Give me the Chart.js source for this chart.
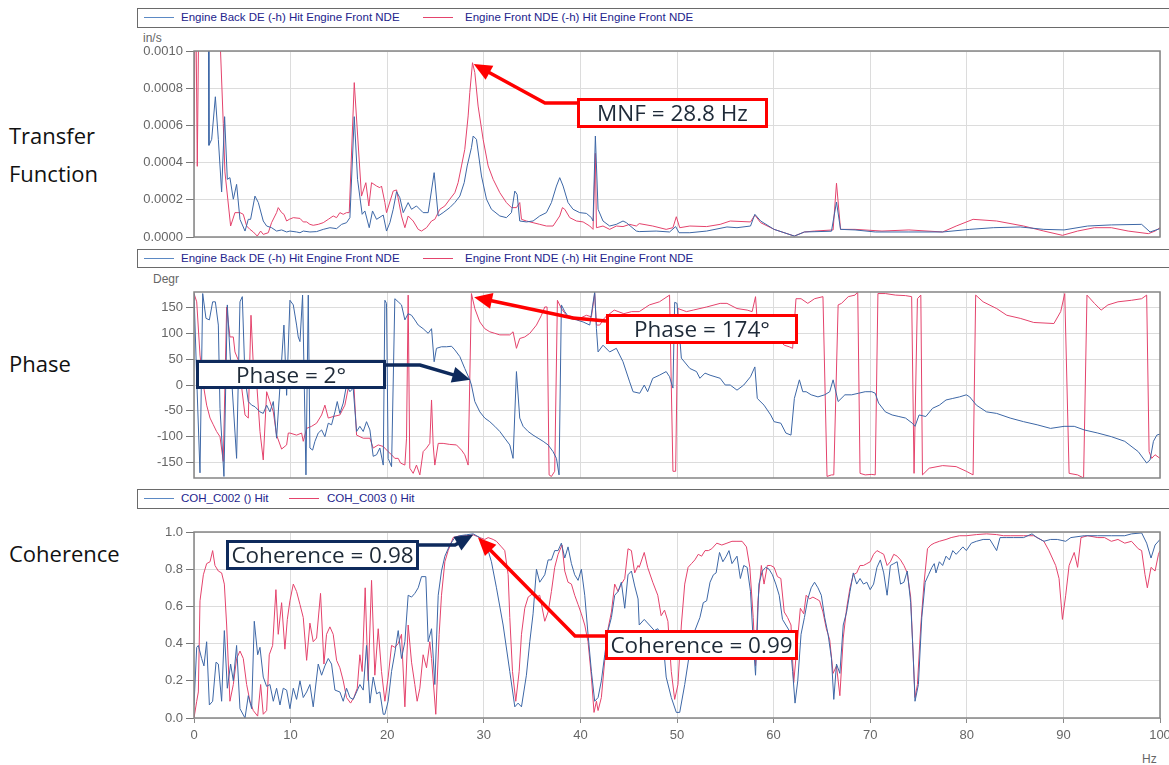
<!DOCTYPE html>
<html>
<head>
<meta charset="utf-8">
<script src="https://cdn.jsdelivr.net/npm/chart.js@4/dist/chart.umd.min.js"></script>
<style>
  body { margin: 0; width: 1169px; height: 765px; overflow: hidden; background: #fff; position: relative; font-family: "Liberation Sans", Arial, sans-serif; }
  canvas { position: absolute; left: 0; }
  .legend { position: absolute; left: 137px; width: 1100px; border: 1.5px solid #6a6a6a; background: #fff; box-sizing: border-box; font-size: 11.5px; color: #23238c; }
  .legend span.item { position: absolute; top: 2px; white-space: nowrap; }
  .legend span.swatch { position: absolute; top: 8px; width: 30px; height: 0; border-top: 1px solid; }
  .unit { position: absolute; font-size: 12px; color: #666; }
  .title { position: absolute; left: 9px; font: 22px "Open Sans", sans-serif; color: #111; }
  .note { position: absolute; background: #fff; border: 3px solid; box-sizing: border-box; font: 22.5px/24px "Open Sans", sans-serif; color: #1e2a38; text-align: center; white-space: nowrap; }
  .red { border-color: #f00; }
  .navy { border-color: #0e2a5c; }
</style>
</head>
<body>
<div class="title" style="top:116px;line-height:38px">Transfer<br>Function</div>
<div class="title" style="top:348px;line-height:30px">Phase</div>
<div class="title" style="top:538px;line-height:30px">Coherence</div>

<div class="unit" style="left:143px;top:31px">in/s</div>
<div class="unit" style="left:153px;top:272px">Degr</div>
<div class="unit" style="left:1142px;top:752px">Hz</div>

<canvas id="tf" width="1169" height="220" style="top:28px"></canvas>
<canvas id="ph" width="1169" height="220" style="top:268px"></canvas>
<canvas id="coh" width="1169" height="256" style="top:509px"></canvas>

<div class="legend" id="leg1" style="top:8px;height:20px"></div>
<div class="legend" id="leg2" style="top:249px;height:19px"></div>
<div class="legend" id="leg3" style="top:489px;height:20px"></div>

<div class="note red" style="left:577px;top:98px;width:191px;height:30px">MNF = 28.8 Hz</div>
<div class="note red" style="left:606px;top:314px;width:192px;height:30px">Phase = 174°</div>
<div class="note navy" style="left:196px;top:360px;width:190px;height:29px">Phase = 2°</div>
<div class="note navy" style="left:226px;top:540px;width:193px;height:30px">Coherence = 0.98</div>
<div class="note red" style="left:605px;top:630px;width:193px;height:30px">Coherence = 0.99</div>

<script>
// legend labels
const tfLabels = ["Engine Back DE (-h) Hit Engine Front NDE", "Engine Front NDE (-h) Hit Engine Front NDE"];
const cohLabels = ["COH_C002 () Hit", "COH_C003 () Hit"];

// tick labels
const hzTicks = [0, 10, 20, 30, 40, 50, 60, 70, 80, 90, 100];
const tfTicks = [0, 0.0002, 0.0004, 0.0006, 0.0008, 0.0010];
const phaseTicks = [-150, -100, -50, 0, 50, 100, 150];
const cohTicks = [0, 0.2, 0.4, 0.6, 0.8, 1.0];

// transfer function, [Hz, in/s]
const tfBack = [[0,15e-4],[1.45,15e-4],[1.55,4.93e-4],[1.83,5.25e-4],[2.21,7.54e-4],[2.52,5.25e-4],[2.86,2.42e-4],[3.17,6.47e-4],[3.45,3.1e-4],[3.72,3.19e-4],[4.07,2.03e-4],[4.41,2.83e-4],[4.76,0.95e-4],[5.28,0.32e-4],[5.62,0.95e-4],[5.86,0.95e-4],[6.31,2.2e-4],[6.66,1.85e-4],[7.17,0.86e-4],[7.52,0.59e-4],[8.03,0.5e-4],[8.55,0.32e-4],[9.07,0.38e-4],[9.59,0.27e-4],[9.93,0.32e-4],[10.62,0.27e-4],[10.97,0.23e-4],[11.31,0.32e-4],[12.0,0.27e-4],[12.69,0.29e-4],[13.38,0.41e-4],[14.07,0.5e-4],[14.76,0.45e-4],[15.28,0.68e-4],[15.79,0.77e-4],[16.14,1.04e-4],[16.59,6.47e-4],[16.93,3.1e-4],[17.41,1.22e-4],[17.69,1.4e-4],[18.14,0.5e-4],[18.48,1.4e-4],[18.9,0.95e-4],[19.59,1.18e-4],[19.93,0.32e-4],[20.28,0.77e-4],[20.62,1.49e-4],[20.97,2.44e-4],[21.31,2.11e-4],[21.66,1.31e-4],[22.17,1.85e-4],[22.52,1.49e-4],[23.03,1.67e-4],[23.72,1.31e-4],[24.24,1.31e-4],[24.86,3.46e-4],[25.28,1.13e-4],[25.79,1.31e-4],[26.48,1.58e-4],[27.0,1.85e-4],[27.52,2.2e-4],[27.97,2.92e-4],[28.28,3.82e-4],[28.72,4.8e-4],[28.9,5.43e-4],[29.24,5.25e-4],[29.76,3.28e-4],[30.28,2.03e-4],[30.79,1.49e-4],[31.66,1.13e-4],[32.34,1.04e-4],[32.86,1.31e-4],[33.21,2.47e-4],[33.45,2.29e-4],[33.72,0.86e-4],[34.41,0.81e-4],[35.1,0.86e-4],[35.79,1.13e-4],[36.48,1.31e-4],[37.0,1.85e-4],[37.52,2.74e-4],[37.86,3.19e-4],[38.21,2.74e-4],[38.72,1.85e-4],[39.24,1.49e-4],[39.93,1.31e-4],[40.62,1.27e-4],[41.14,1.04e-4],[41.31,0.86e-4],[41.55,5.43e-4],[41.83,1.49e-4],[42.34,0.86e-4],[43.03,0.59e-4],[43.72,0.68e-4],[44.41,0.86e-4],[44.76,0.77e-4],[45.79,0.32e-4],[46.09,0.29e-4],[47.84,0.32e-4],[49.23,0.27e-4],[49.86,0.56e-4],[50.21,0.23e-4],[51.33,0.23e-4],[53.07,0.32e-4],[55.17,0.54e-4],[56.21,0.5e-4],[57.61,0.59e-4],[58.06,1.22e-4],[58.66,0.86e-4],[60.05,0.41e-4],[62.15,0.05e-4],[63.19,0.27e-4],[65.99,0.31e-4],[66.51,1.88e-4],[66.93,0.41e-4],[68.43,0.38e-4],[70.52,0.27e-4],[74.01,0.27e-4],[77.5,0.27e-4],[80.3,0.41e-4],[82.74,0.5e-4],[85.53,0.54e-4],[87.98,0.41e-4],[90.07,0.38e-4],[92.51,0.59e-4],[94.96,0.65e-4],[98.1,0.68e-4],[98.97,0.27e-4],[100,0.45e-4]];
const tfFront = [[0,3.9e-4],[0.15,15e-4],[0.34,3.8e-4],[0.55,15e-4],[2.6,12e-4],[3.03,6.1e-4],[3.2,3.5e-4],[3.79,0.59e-4],[4.24,1.31e-4],[4.76,1.31e-4],[5.1,1.22e-4],[5.45,0.59e-4],[5.79,0.41e-4],[6.14,0.27e-4],[6.55,0.05e-4],[6.9,0.32e-4],[7.17,0.14e-4],[7.69,0.23e-4],[8.03,0.77e-4],[8.55,1.31e-4],[8.72,1.58e-4],[9.07,1.31e-4],[9.31,1.22e-4],[9.59,0.86e-4],[9.86,0.95e-4],[10.28,1.04e-4],[10.97,1.0e-4],[11.31,0.81e-4],[11.66,0.81e-4],[12.0,0.68e-4],[12.34,0.63e-4],[12.86,0.68e-4],[13.38,0.77e-4],[13.9,0.95e-4],[14.41,1.13e-4],[14.76,1.04e-4],[15.1,1.31e-4],[15.45,1.22e-4],[15.79,1.31e-4],[16.07,1.31e-4],[16.59,8.3e-4],[17.34,2.2e-4],[17.79,2.92e-4],[18.1,1.67e-4],[18.38,2.92e-4],[18.9,2.74e-4],[19.24,2.65e-4],[19.41,2.74e-4],[19.76,1.85e-4],[19.93,1.31e-4],[20.62,2.47e-4],[20.97,2.53e-4],[21.48,1.13e-4],[21.83,0.5e-4],[22.17,1.13e-4],[22.69,0.86e-4],[23.21,0.41e-4],[23.55,0.32e-4],[24.07,0.5e-4],[24.59,0.86e-4],[24.93,0.95e-4],[25.45,1.49e-4],[25.97,1.67e-4],[26.48,2.03e-4],[27.0,2.38e-4],[27.34,2.92e-4],[27.69,3.82e-4],[28.03,4.71e-4],[28.38,6.51e-4],[28.55,7.76e-4],[28.83,9.37e-4],[29.07,8.84e-4],[29.41,7.04e-4],[29.93,5.25e-4],[30.45,3.82e-4],[30.97,3.1e-4],[31.66,2.38e-4],[32.34,1.85e-4],[32.86,1.58e-4],[33.38,1.58e-4],[33.72,1.85e-4],[33.9,0.95e-4],[34.41,0.86e-4],[35.1,0.77e-4],[35.79,0.68e-4],[36.48,0.59e-4],[37.17,0.59e-4],[37.86,1.13e-4],[38.14,1.58e-4],[38.38,1.49e-4],[38.9,1.04e-4],[39.59,0.86e-4],[40.28,0.81e-4],[40.97,0.59e-4],[41.31,0.41e-4],[41.55,4.5e-4],[41.66,0.5e-4],[42.34,0.59e-4],[43.03,0.41e-4],[43.72,0.59e-4],[44.41,0.56e-4],[45.1,0.68e-4],[45.79,0.59e-4],[46.09,0.72e-4],[47.49,0.59e-4],[48.88,0.41e-4],[49.58,0.5e-4],[49.93,1.09e-4],[50.28,0.5e-4],[51.33,0.59e-4],[53.07,0.56e-4],[54.47,0.68e-4],[55.51,0.86e-4],[57.61,0.81e-4],[58.06,1.18e-4],[58.66,0.77e-4],[60.05,0.41e-4],[62.15,0.05e-4],[63.19,0.27e-4],[64.24,0.32e-4],[66.16,0.38e-4],[66.51,2.89e-4],[66.93,0.41e-4],[68.43,0.41e-4],[71.22,0.32e-4],[74.01,0.38e-4],[77.5,0.27e-4],[78.9,0.59e-4],[80.65,0.95e-4],[83.09,0.86e-4],[85.88,0.59e-4],[87.98,0.32e-4],[89.9,0.09e-4],[91.47,0.32e-4],[93.21,0.5e-4],[94.96,0.5e-4],[96.7,0.32e-4],[98.8,0.18e-4],[99.49,0.32e-4],[100,0.5e-4]];

// phase, [Hz, degrees]
const phaseBack = [[0,177],[0.28,13],[0.62,-170],[0.9,177],[1.24,129],[1.59,126],[1.93,161],[2.21,161],[2.52,116],[2.69,-45],[3.1,-177],[3.45,155],[3.72,64],[4.41,-142],[4.76,161],[5.0,171],[5.28,13],[5.62,-32],[5.97,-39],[6.31,-42],[6.83,-52],[7.17,-55],[7.52,-39],[7.86,-52],[8.21,-32],[8.55,-103],[9.31,116],[9.59,-20],[9.93,164],[10.28,155],[10.62,116],[10.79,93],[10.97,84],[11.24,174],[11.59,-174],[11.83,174],[12.0,-122],[12.28,-126],[12.52,-109],[12.86,-93],[13.21,-87],[13.55,-100],[13.9,-74],[14.24,-77],[14.59,-52],[14.83,-32],[15.1,-55],[15.45,-35],[15.79,0],[16.14,-13],[16.48,-6],[16.83,-90],[17.17,-80],[17.52,-90],[17.86,-71],[18.21,-87],[18.55,-138],[18.9,-135],[19.24,-122],[19.59,-155],[19.76,164],[19.93,158],[20.1,-142],[20.45,-158],[20.79,167],[21.14,161],[21.48,155],[21.83,126],[22.17,138],[22.52,135],[22.86,126],[23.21,116],[23.72,109],[24.24,100],[24.59,109],[24.86,45],[25.1,71],[25.62,74],[26.14,74],[26.66,75],[27.0,68],[27.52,55],[28.03,32],[28.55,10],[28.72,0],[29.07,-32],[29.59,-52],[30.1,-64],[30.62,-71],[31.14,-80],[31.66,-90],[32.17,-103],[32.69,-116],[33.03,-142],[33.38,26],[33.72,-64],[34.07,-80],[34.59,-90],[35.1,-97],[35.62,-103],[36.14,-109],[36.66,-116],[37.17,-129],[37.52,-142],[37.79,-174],[38.03,155],[38.38,142],[38.9,129],[39.59,126],[40.28,122],[40.97,116],[41.48,180],[41.66,109],[41.83,64],[42.34,77],[43.03,64],[43.72,71],[44.41,45],[45.1,6],[45.45,-13],[46.14,-16],[46.61,0],[46.96,-13],[47.49,13],[48.18,19],[48.88,26],[49.23,16],[49.58,-6],[49.76,160],[50.0,158],[50.45,52],[51.33,32],[52.02,26],[52.37,13],[52.9,23],[53.42,19],[54.47,13],[54.99,0],[55.51,0],[56.21,-10],[56.91,0],[57.61,16],[58.06,35],[58.31,-26],[59.01,-39],[59.7,-58],[60.05,-71],[60.75,-74],[61.27,-93],[61.8,-97],[62.15,-26],[62.67,10],[63.02,-13],[63.37,-13],[63.89,-19],[64.59,-23],[65.29,-19],[65.81,-13],[66.16,10],[66.68,-32],[67.38,-19],[68.08,-19],[68.78,-16],[69.48,-13],[70.17,-13],[70.52,-16],[70.87,-35],[71.57,-52],[72.27,-58],[72.97,-61],[73.66,-64],[74.36,-74],[74.64,-80],[75.06,-58],[75.76,-61],[76.46,-45],[77.16,-39],[77.85,-29],[78.55,-26],[79.25,-23],[79.95,-19],[80.3,-23],[80.99,-39],[82.04,-52],[83.09,-55],[84.49,-64],[85.88,-71],[87.28,-77],[88.67,-84],[90.07,-80],[91.12,-80],[92.16,-87],[93.56,-93],[94.96,-100],[96.35,-109],[97.75,-129],[98.62,-151],[98.97,-145],[99.32,-109],[99.67,-97],[100,-95]];
const phaseFront = [[0,177],[0.28,161],[0.62,58],[0.97,0],[1.31,-39],[1.66,-64],[2.0,-77],[2.34,-90],[2.69,-100],[3.03,-148],[3.38,151],[3.72,93],[4.07,93],[4.24,64],[4.59,48],[5.28,-58],[5.62,-64],[5.9,135],[6.14,39],[6.48,6],[6.83,-90],[7.17,-145],[7.52,-13],[7.86,-32],[8.21,-52],[8.55,-97],[9.07,-124],[9.59,-116],[9.76,-93],[9.93,-93],[10.62,-97],[11.14,-93],[11.31,-109],[11.66,-84],[12.17,-80],[12.69,-74],[13.21,-58],[13.55,-39],[13.9,-64],[14.41,-61],[15.1,-58],[15.62,-39],[15.97,-6],[16.31,13],[16.55,0],[16.83,-97],[17.52,-103],[18.21,-103],[18.55,-122],[19.07,-116],[19.59,-119],[20.1,-129],[20.45,-135],[20.79,-142],[21.14,-142],[21.38,-151],[21.83,-155],[22.0,-103],[22.17,174],[22.34,-161],[22.69,-171],[23.03,-155],[23.38,-174],[23.72,-129],[24.07,-122],[24.41,-113],[24.59,-29],[24.76,-116],[24.93,-155],[25.28,-113],[25.79,-113],[26.48,-115],[27.17,-116],[27.69,-126],[28.03,-135],[28.38,-155],[28.72,177],[29.07,148],[29.59,122],[30.1,109],[30.62,103],[31.14,100],[31.66,97],[32.69,97],[33.03,103],[33.38,71],[33.72,90],[34.24,93],[34.76,100],[35.45,116],[35.97,135],[36.31,151],[36.55,151],[36.76,-174],[37.0,-177],[37.34,-167],[37.62,164],[38.03,148],[38.55,135],[39.24,132],[39.93,129],[40.62,135],[41.14,132],[41.48,177],[41.66,116],[42.0,116],[42.5,130],[43.5,145],[44.5,138],[45.3,142],[46.09,142],[47.14,155],[48.18,161],[49.23,174],[49.58,-167],[49.86,-167],[50.1,148],[50.98,142],[51.68,145],[53.07,151],[54.47,158],[55.17,158],[56.21,148],[57.26,145],[57.78,142],[58.13,171],[58.31,122],[58.66,109],[59.35,103],[60.05,90],[60.75,84],[61.1,77],[61.62,74],[61.97,71],[62.32,167],[62.84,167],[63.54,158],[64.24,167],[65.11,171],[65.53,-177],[65.99,-174],[66.23,-174],[66.68,155],[67.03,158],[67.73,171],[68.43,174],[68.71,180],[68.95,-171],[69.48,-174],[70.17,-173],[70.52,-174],[70.8,177],[71.57,177],[72.62,174],[73.66,173],[74.29,171],[74.54,-171],[74.89,167],[75.24,174],[75.41,-174],[76.11,-161],[77.5,-156],[78.9,-158],[79.95,-167],[80.65,-174],[80.92,174],[81.69,161],[83.09,148],[84.14,135],[85.53,129],[86.93,121],[89.02,119],[89.72,142],[90.14,177],[90.59,-171],[91.47,-174],[92.09,-180],[92.44,174],[93.21,158],[93.91,145],[94.61,155],[95.65,161],[97.05,164],[98.1,167],[98.62,174],[98.87,-129],[99.14,-142],[99.49,-135],[100,-142]];

// coherence, [Hz, ratio]
const cohBack = [[0,0.07],[0.28,0.38],[0.45,0.39],[0.79,0.32],[1.03,0.28],[1.31,0.41],[1.59,0.07],[1.93,0.09],[2.28,0.3],[2.52,0.29],[2.86,0.09],[3.14,0.47],[3.45,0.16],[3.79,0.29],[4.07,0.2],[4.41,0.39],[4.76,0.05],[5.28,0.0],[5.62,0.12],[5.97,0.05],[6.24,0.52],[6.59,0.34],[6.83,0.38],[7.17,0.22],[7.52,0.17],[7.86,0.18],[8.21,0.09],[8.55,0.16],[8.9,0.07],[9.24,0.16],[9.59,0.15],[9.93,0.05],[10.28,0.16],[10.62,0.1],[10.97,0.2],[11.31,0.11],[11.66,0.14],[12.0,0.18],[12.34,0.06],[12.86,0.29],[13.21,0.23],[13.55,0.28],[13.9,0.32],[14.24,0.29],[14.59,0.15],[15.1,0.14],[15.45,0.09],[15.79,0.16],[16.14,0.11],[16.48,0.1],[16.83,0.14],[17.17,0.18],[17.52,0.15],[17.86,0.39],[18.21,0.08],[18.55,0.22],[18.9,0.13],[19.24,0.14],[19.59,0.02],[19.76,0.02],[20.1,0.09],[20.45,0.25],[20.79,0.35],[21.14,0.47],[21.48,0.32],[21.83,0.41],[22.17,0.66],[22.52,0.65],[22.86,0.67],[23.21,0.7],[23.55,0.76],[24.0,0.76],[24.24,0.41],[24.59,0.48],[24.93,0.18],[25.28,0.66],[25.62,0.79],[25.97,0.87],[26.48,0.93],[27.0,0.97],[27.52,0.98],[28.21,0.985],[28.9,0.99],[29.59,0.97],[30.28,0.93],[30.79,0.84],[31.31,0.7],[32.0,0.5],[32.69,0.25],[33.21,0.06],[33.55,0.08],[33.9,0.06],[34.41,0.23],[34.76,0.41],[35.1,0.56],[35.45,0.8],[35.79,0.73],[36.31,0.77],[36.66,0.85],[37.0,0.85],[37.34,0.9],[37.69,0.9],[38.03,0.94],[38.38,0.86],[38.72,0.92],[39.07,0.83],[39.41,0.77],[39.76,0.74],[40.1,0.8],[40.45,0.66],[40.79,0.45],[41.14,0.25],[41.48,0.09],[41.83,0.11],[42.17,0.2],[42.52,0.34],[42.86,0.47],[43.21,0.54],[43.55,0.66],[43.9,0.68],[44.24,0.73],[44.59,0.59],[44.93,0.77],[45.28,0.79],[45.62,0.71],[45.97,0.64],[46.09,0.5],[46.61,0.53],[47.14,0.5],[47.66,0.47],[48.01,0.48],[48.53,0.43],[48.88,0.22],[49.41,0.11],[49.93,0.03],[50.28,0.03],[50.8,0.18],[51.33,0.36],[51.85,0.47],[52.37,0.54],[52.72,0.62],[53.07,0.63],[53.42,0.73],[53.77,0.77],[54.05,0.78],[54.4,0.89],[54.75,0.84],[55.1,0.87],[55.38,0.9],[55.69,0.83],[56.21,0.87],[56.56,0.75],[56.91,0.82],[57.26,0.81],[57.61,0.68],[57.85,0.45],[58.13,0.23],[58.48,0.72],[58.83,0.79],[59.18,0.81],[59.53,0.8],[59.88,0.77],[60.23,0.72],[60.58,0.66],[60.92,0.53],[61.27,0.5],[61.62,0.47],[61.97,0.25],[62.22,0.08],[62.5,0.2],[62.84,0.45],[63.19,0.54],[63.54,0.64],[63.89,0.7],[64.24,0.73],[64.59,0.7],[64.94,0.66],[65.29,0.54],[65.64,0.45],[65.99,0.32],[66.23,0.1],[66.51,0.29],[66.86,0.24],[67.21,0.5],[67.56,0.57],[67.91,0.68],[68.25,0.78],[68.6,0.72],[68.95,0.75],[69.3,0.72],[69.65,0.73],[70.0,0.69],[70.35,0.72],[70.7,0.81],[71.05,0.85],[71.4,0.78],[71.75,0.66],[72.09,0.82],[72.44,0.83],[72.79,0.84],[73.14,0.72],[73.49,0.73],[73.84,0.79],[74.19,0.62],[74.43,0.36],[74.64,0.09],[74.99,0.18],[75.34,0.54],[75.69,0.73],[76.04,0.77],[76.39,0.81],[76.63,0.83],[76.81,0.78],[77.16,0.84],[77.5,0.82],[77.85,0.87],[78.2,0.85],[78.55,0.9],[78.9,0.88],[79.25,0.9],[79.6,0.92],[79.95,0.9],[80.47,0.94],[80.99,0.95],[81.69,0.96],[82.39,0.96],[83.09,0.9],[83.44,0.97],[84.14,0.97],[84.83,0.97],[85.88,0.97],[86.75,0.99],[87.28,0.97],[87.98,0.95],[88.67,0.96],[89.37,0.96],[90.24,0.95],[90.77,0.97],[92.16,0.98],[93.56,0.98],[94.96,0.98],[96.35,0.98],[97.05,0.99],[98.1,0.995],[98.62,0.94],[99.07,0.86],[99.49,0.93],[100,0.96]];
const cohFront = [[0,0.0],[0.28,0.09],[0.45,0.14],[0.62,0.63],[0.97,0.77],[1.31,0.83],[1.66,0.84],[1.93,0.9],[2.17,0.82],[2.52,0.79],[2.86,0.78],[3.14,0.72],[3.38,0.5],[3.72,0.09],[4.07,0.18],[4.41,0.32],[4.76,0.36],[5.1,0.32],[5.45,0.18],[5.79,0.09],[6.14,0.04],[6.59,0.01],[6.9,0.18],[7.17,0.02],[7.52,0.04],[7.79,0.34],[8.14,0.39],[8.48,0.69],[8.72,0.45],[9.07,0.62],[9.41,0.37],[9.66,0.53],[9.93,0.63],[10.28,0.72],[10.62,0.68],[10.97,0.61],[11.31,0.54],[11.66,0.31],[12.0,0.51],[12.34,0.41],[12.69,0.43],[13.1,0.67],[13.45,0.29],[13.72,0.45],[14.07,0.49],[14.41,0.45],[14.76,0.31],[15.1,0.27],[15.45,0.2],[15.79,0.11],[16.21,0.08],[16.55,0.11],[16.9,0.16],[17.17,0.34],[17.41,0.25],[17.72,0.7],[18.03,0.2],[18.38,0.74],[18.72,0.23],[19.07,0.48],[19.41,0.25],[19.76,0.09],[20.1,0.22],[20.45,0.39],[20.79,0.38],[21.14,0.4],[21.48,0.45],[21.83,0.06],[22.17,0.5],[22.52,0.3],[22.86,0.18],[23.1,0.09],[23.38,0.16],[23.72,0.34],[24.07,0.27],[24.41,0.41],[24.59,0.32],[25.03,0.02],[25.38,0.45],[25.62,0.66],[25.97,0.84],[26.31,0.9],[26.83,0.97],[27.52,0.98],[28.21,0.98],[28.9,0.985],[29.59,0.97],[30.1,0.96],[30.45,0.97],[30.97,0.96],[31.31,0.95],[31.83,0.92],[32.17,0.9],[32.52,0.77],[32.69,0.54],[32.97,0.25],[33.31,0.09],[33.66,0.25],[33.9,0.45],[34.24,0.59],[34.59,0.65],[35.1,0.67],[35.45,0.65],[35.79,0.66],[36.31,0.52],[36.66,0.57],[37.0,0.68],[37.34,0.81],[37.69,0.88],[38.1,0.93],[38.38,0.79],[38.72,0.73],[39.07,0.72],[39.41,0.66],[39.76,0.61],[40.1,0.56],[40.45,0.5],[40.79,0.41],[41.14,0.22],[41.41,0.03],[41.66,0.09],[41.83,0.04],[42.17,0.11],[42.52,0.31],[42.86,0.48],[43.21,0.57],[43.55,0.72],[43.9,0.68],[44.24,0.72],[44.59,0.75],[44.93,0.91],[45.28,0.9],[45.62,0.78],[45.97,0.82],[46.09,0.81],[46.61,0.89],[46.96,0.81],[47.49,0.73],[48.01,0.66],[48.36,0.55],[48.71,0.58],[49.06,0.52],[49.41,0.25],[49.76,0.1],[50.1,0.18],[50.45,0.5],[50.8,0.72],[51.15,0.81],[51.5,0.83],[51.85,0.85],[52.2,0.88],[52.55,0.87],[52.9,0.9],[53.25,0.9],[53.6,0.91],[54.12,0.94],[54.64,0.93],[55.17,0.94],[55.69,0.95],[56.21,0.95],[56.74,0.95],[57.19,0.92],[57.54,0.81],[57.89,0.54],[58.13,0.28],[58.38,0.63],[58.73,0.82],[59.01,0.72],[59.35,0.82],[59.7,0.82],[60.05,0.81],[60.4,0.76],[60.75,0.75],[61.1,0.57],[61.45,0.54],[61.8,0.5],[62.08,0.19],[62.43,0.39],[62.77,0.59],[63.12,0.56],[63.37,0.66],[63.72,0.64],[64.07,0.65],[64.42,0.64],[64.76,0.63],[65.11,0.57],[65.46,0.48],[65.81,0.42],[66.16,0.24],[66.51,0.28],[66.86,0.12],[67.21,0.43],[67.56,0.59],[67.91,0.7],[68.25,0.77],[68.6,0.78],[68.95,0.82],[69.3,0.82],[69.65,0.83],[70.0,0.84],[70.35,0.88],[70.7,0.9],[71.05,0.89],[71.4,0.88],[71.75,0.82],[72.09,0.84],[72.44,0.88],[72.79,0.87],[73.14,0.85],[73.49,0.82],[73.84,0.78],[74.19,0.65],[74.43,0.36],[74.64,0.11],[74.89,0.18],[75.24,0.5],[75.58,0.73],[75.93,0.91],[76.28,0.93],[76.63,0.94],[77.16,0.95],[77.85,0.96],[78.38,0.97],[79.25,0.98],[79.95,0.98],[80.99,0.986],[82.04,0.99],[83.09,0.986],[83.79,0.98],[84.49,0.98],[85.88,0.98],[86.93,0.98],[87.98,0.95],[88.5,0.9],[89.2,0.82],[89.55,0.75],[89.9,0.53],[90.24,0.66],[90.59,0.82],[91.12,0.89],[91.47,0.81],[91.82,0.97],[92.51,0.98],[93.56,0.97],[94.26,0.97],[94.96,0.95],[95.65,0.96],[96.35,0.94],[97.05,0.95],[97.75,0.91],[98.1,0.9],[98.45,0.77],[98.69,0.7],[99.07,0.81],[99.49,0.79],[99.84,0.88],[100,0.9]];

const BLUE = "#3d67a6";
const RED = "#e4436c";

// html legends
function buildLegend(id, labels, redSwatchX, redTextX) {
  const el = document.getElementById(id);
  el.innerHTML = `
    <span class="swatch" style="left:6px;border-color:#5b89c4"></span>
    <span class="item" style="left:43px">${labels[0]}</span>
    <span class="swatch" style="left:${redSwatchX}px;border-color:${RED}"></span>
    <span class="item" style="left:${redTextX}px">${labels[1]}</span>`;
}
buildLegend("leg1", tfLabels, 285, 327);
buildLegend("leg2", tfLabels, 285, 327);
buildLegend("leg3", cohLabels, 151, 189);

// frame around plot + annotation arrows
const framePlugin = {
  id: "frame",
  afterDatasetsDraw(chart) {
    const a = chart.chartArea, c = chart.ctx;
    c.save();
    c.strokeStyle = "#858585";
    c.lineWidth = 1.5;
    c.strokeRect(a.left, a.top, a.right - a.left, a.bottom - a.top);
    c.restore();
  },
  afterDraw(chart, args, opts) {
    const c = chart.ctx;
    (opts.arrows || []).forEach(ar => {
      const tx = chart.scales.x.getPixelForValue(ar.tip[0]);
      const ty = chart.scales.y.getPixelForValue(ar.tip[1]);
      const pts = ar.path.map(p => [p[0], p[1] - opts.top]);
      const last = pts[pts.length - 1];
      const ang = Math.atan2(ty - last[1], tx - last[0]);
      const hl = 18, hw = 8;
      const bx = tx - hl * Math.cos(ang), by = ty - hl * Math.sin(ang);
      c.save();
      c.strokeStyle = ar.color;
      c.fillStyle = ar.color;
      c.lineWidth = 3.5;
      c.lineJoin = "miter";
      c.beginPath();
      c.moveTo(pts[0][0], pts[0][1]);
      pts.slice(1).forEach(p => c.lineTo(p[0], p[1]));
      c.lineTo(bx + 4 * Math.cos(ang), by + 4 * Math.sin(ang));
      c.stroke();
      c.beginPath();
      c.moveTo(tx, ty);
      c.lineTo(bx + hw * Math.sin(ang), by - hw * Math.cos(ang));
      c.lineTo(bx - hw * Math.sin(ang), by + hw * Math.cos(ang));
      c.closePath();
      c.fill();
      c.restore();
    });
  }
};

function makeChart(id, series, yMin, yMax, yTicks, yFmt, top, padTop, xHeight, showX, arrows) {
  return new Chart(document.getElementById(id), {
    type: "line",
    data: {
      datasets: series.map(s => ({
        data: s.pts.map(p => ({ x: p[0], y: p[1] })),
        borderColor: s.color,
        borderWidth: 1,
        pointRadius: 0,
        tension: 0,
        fill: false
      }))
    },
    options: {
      responsive: false,
      animation: false,
      events: [],
      layout: { padding: { left: 0, right: 9, top: padTop, bottom: 0 } },
      plugins: {
        legend: { display: false },
        tooltip: { enabled: false },
        frame: { arrows, top }
      },
      scales: {
        x: {
          type: "linear", min: 0, max: 100,
          afterBuildTicks: s => { s.ticks = hzTicks.map(v => ({ value: v })); },
          afterFit: s => { s.height = xHeight; s.paddingLeft = 0; s.paddingRight = 0; },
          grid: { color: "#dcdcdc", drawTicks: showX, tickLength: 5, tickColor: "#888" },
          border: { display: false },
          ticks: { display: showX, color: "#666", font: { size: 13, family: "Liberation Sans" }, padding: 5, maxRotation: 0 }
        },
        y: {
          min: yMin, max: yMax,
          afterBuildTicks: s => { s.ticks = yTicks.map(v => ({ value: v })); },
          afterFit: s => { s.width = 194; s.paddingTop = 0; s.paddingBottom = 0; },
          grid: { color: "#dcdcdc", tickLength: 8, tickColor: "#777" },
          border: { display: false },
          ticks: { color: "#666", font: { size: 13, family: "Liberation Sans" }, padding: 3, callback: yFmt }
        }
      }
    },
    plugins: [framePlugin]
  });
}

makeChart("tf",
  [{ pts: tfBack, color: BLUE }, { pts: tfFront, color: RED }],
  0, 0.001, tfTicks, v => v.toFixed(4), 28, 23, 11, false,
  [{ path: [[577, 103], [545, 103]], tip: [28.95, 0.00093], color: "#f00" }]);

makeChart("ph",
  [{ pts: phaseBack, color: BLUE }, { pts: phaseFront, color: RED }],
  -180, 180, phaseTicks, v => String(v), 268, 24, 10, false,
  [{ path: [[606, 321], [573, 318]], tip: [29.0, 170], color: "#f00" },
   { path: [[386, 365], [420, 365]], tip: [28.6, 10], color: "#0e2a5c" }]);

makeChart("coh",
  [{ pts: cohBack, color: BLUE }, { pts: cohFront, color: RED }],
  0, 1, cohTicks, v => v.toFixed(1), 509, 23, 47, true,
  [{ path: [[419, 545], [455, 545]], tip: [28.9, 0.985], color: "#0e2a5c" },
   { path: [[605, 636], [575, 636]], tip: [29.4, 0.97], color: "#f00" }]);
</script>
</body>
</html>
